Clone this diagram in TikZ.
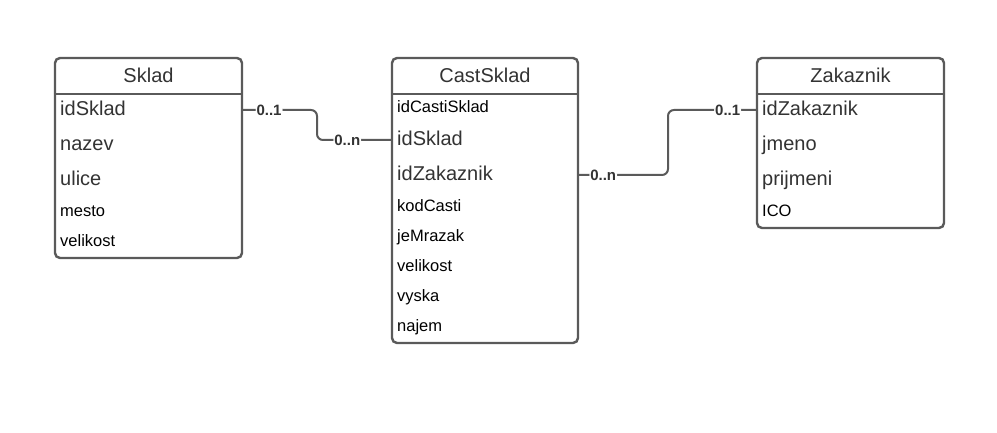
\documentclass[tikz,border=0pt]{standalone}
\usepackage{fontspec}
\setmainfont{Liberation Sans}
\usetikzlibrary{positioning}

\definecolor{frame}{HTML}{5A5A5A}
\definecolor{ink}{HTML}{333333}

\begin{document}
\begin{tikzpicture}[x=1pt, y=-1pt,
	entity/.style = { rectangle, draw=frame, line width=2.4pt, fill=white,
	rounded corners=5pt, inner sep=0pt },
	title/.style = { anchor=north, minimum height=37pt, inner sep=0pt,
	text=ink, font=\fontsize{20}{24}\selectfont },
	bigattr/.style = { anchor=west, inner sep=0pt, text=ink,
	text height=15pt, text depth=4pt, font=\fontsize{20}{24}\selectfont },
	attr/.style = { anchor=west, inner sep=0pt, text=black,
	text height=12pt, text depth=3pt, font=\fontsize{16.5}{20}\selectfont },
	rel/.style = { draw=frame, line width=2pt, rounded corners=6pt },
	card/.style = { fill=white, inner xsep=1pt, inner ysep=0pt, text=ink,
	font=\fontsize{15}{18}\selectfont\bfseries } ]

  \useasboundingbox (0,0) rectangle (997,433);

  % Sklad
  \node [name=sklad, entity, minimum width=187pt, minimum height=200pt]
	at (148.5,158) {};
  \node [name=skladhdr, title, minimum width=187pt] at (sklad.north) { Sklad };
  \draw [frame, line width=2.4pt] (sklad.west |- skladhdr.south) -- (sklad.east |- skladhdr.south);
  \node [name=s1, bigattr] at (60,110) { idSklad };
  \node [name=s2, bigattr] at (60,145) { nazev };
  \node [name=s3, bigattr] at (60,180) { ulice };
  \node [name=s4, attr] at (60,212) { mesto };
  \node [name=s5, attr] at (60,242) { velikost };

  % CastSklad
  \node [name=cast, entity, minimum width=186pt, minimum height=285pt]
	at (485,200.5) {};
  \node [name=casthdr, title, minimum width=186pt] at (cast.north) { CastSklad };
  \draw [frame, line width=2.4pt] (cast.west |- casthdr.south) -- (cast.east |- casthdr.south);
  \node [name=c1, attr] at (397,108) { idCastiSklad };
  \node [name=c2, bigattr] at (397,140) { idSklad };
  \node [name=c3, bigattr] at (397,175) { idZakaznik };
  \node [name=c4, attr] at (397,207) { kodCasti };
  \node [name=c5, attr] at (397,237) { jeMrazak };
  \node [name=c6, attr] at (397,267) { velikost };
  \node [name=c7, attr] at (397,297) { vyska };
  \node [name=c8, attr] at (397,327) { najem };

  % Zakaznik
  \node [name=zak, entity, minimum width=187pt, minimum height=170pt]
	at (850.5,143) {};
  \node [name=zakhdr, title, minimum width=187pt] at (zak.north) { Zakaznik };
  \draw [frame, line width=2.4pt] (zak.west |- zakhdr.south) -- (zak.east |- zakhdr.south);
  \node [name=z1, bigattr] at (762,110) { idZakaznik };
  \node [name=z2, bigattr] at (762,145) { jmeno };
  \node [name=z3, bigattr] at (762,180) { prijmeni };
  \node [name=z4, attr] at (762,212) { ICO };

  % relationships
  \coordinate (bend1) at (317,0);
  \coordinate (bend2) at (668,0);
  \draw [rel] (sklad.east |- s1) -- node [card, pos=0.35] {0..1} (bend1 |- s1)
	-- (bend1 |- c2) -- node [card, pos=0.41] {0..n} (cast.west |- c2);
  \draw [rel] (cast.east |- c3) -- node [card, pos=0.27] {0..n} (bend2 |- c3)
	-- (bend2 |- z1) -- node [card, pos=0.68] {0..1} (zak.west |- z1);
\end{tikzpicture}
\end{document}
